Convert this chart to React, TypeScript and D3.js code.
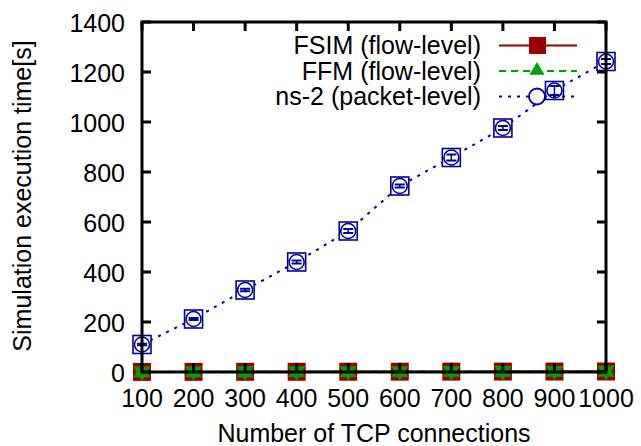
import React from 'react'
import * as d3 from 'd3'

// number of TCP connections
const connections = [100, 200, 300, 400, 500, 600, 700, 800, 900, 1000]
// simulation execution time [s]
const fsimTime = [0.3, 0.5, 0.7, 0.9, 1.1, 1.3, 1.5, 1.7, 1.9, 2.1]
const ffmTime = [0.4, 0.7, 1.0, 1.3, 1.6, 1.9, 2.2, 2.5, 2.8, 3.1]
const ns2Time = [110, 212, 328, 440, 564, 744, 858, 976, 1126, 1242]
const ns2Err = [3, 4, 5, 6, 8, 6, 12, 8, 18, 10]

const xTicks = [100, 200, 300, 400, 500, 600, 700, 800, 900, 1000]
const yTicks = [0, 200, 400, 600, 800, 1000, 1200, 1400]

const RED = '#9b0000'
const GREEN = '#00a000'
const BLUE = '#0000a0'
const FONT = '"Liberation Sans", Arial, sans-serif'

export default function App() {
  const W = 641, H = 446
  const margin = {top: 22, right: 35, bottom: 74, left: 142}
  const x = d3.scaleLinear().domain([100, 1000]).range([margin.left, W - margin.right])
  const y = d3.scaleLinear().domain([0, 1400]).range([H - margin.bottom, margin.top])

  const line = d3.line<number>()
    .x((d, i) => x(connections[i]))
    .y(d => y(d))

  const tri = (cx: number, cy: number, s: number, up = true) => {
    const k = up ? 1 : -1
    return `M${cx},${cy - k * s}L${cx + s * 0.95},${cy + k * s * 0.6}L${cx - s * 0.95},${cy + k * s * 0.6}Z`
  }

  const x0 = x.range()[0], x1 = x.range()[1]
  const y0 = y.range()[0], y1 = y.range()[1]

  const legend = [
    {label: 'FSIM (flow-level)', color: RED, dash: null},
    {label: 'FFM (flow-level)', color: GREEN, dash: '7,5'},
    {label: 'ns-2 (packet-level)', color: BLUE, dash: '3,6'},
  ]

  return (
    <svg width={W} height={H} style={{position: 'absolute', left: 0, top: 0, background: '#fff'}}
      fontFamily={FONT}>
      {/* ns-2 line */}
      <path d={line(ns2Time) || ''} fill="none" stroke={BLUE} strokeWidth={2} strokeDasharray="3,6" />
      {/* FSIM / FFM lines */}
      <path d={line(fsimTime) || ''} fill="none" stroke={RED} strokeWidth={2} />
      <path d={line(ffmTime) || ''} fill="none" stroke={GREEN} strokeWidth={2} strokeDasharray="7,5" />

      {/* ns-2 markers */}
      {ns2Time.map((v, i) => {
        const cx = x(connections[i]), cy = y(v)
        const e0 = y(v - ns2Err[i]), e1 = y(v + ns2Err[i])
        return (
          <g key={'n' + i} stroke={BLUE} fill="none">
            <rect x={cx - 9} y={cy - 9} width={18} height={18} strokeWidth={1.6} fill="#fff" />
            <circle cx={cx} cy={cy} r={7.5} strokeWidth={1.6} />
            <line x1={cx} x2={cx} y1={e0} y2={e1} strokeWidth={1.5} />
            <line x1={cx - 5} x2={cx + 5} y1={e0} y2={e0} strokeWidth={2} />
            <line x1={cx - 5} x2={cx + 5} y1={e1} y2={e1} strokeWidth={2} />
          </g>
        )
      })}

      {/* FSIM markers */}
      {fsimTime.map((v, i) => (
        <rect key={'f' + i} x={x(connections[i]) - 9} y={y(v) - 9} width={18} height={18} fill={RED} />
      ))}
      {/* FFM markers */}
      {ffmTime.map((v, i) => (
        <g key={'g' + i} fill={GREEN}>
          <path d={tri(x(connections[i]), y(v), 9, true)} />
          <path d={tri(x(connections[i]), y(v), 9, false)} />
        </g>
      ))}

      {/* frame + ticks */}
      <g stroke="#000" strokeWidth={3}>
        {xTicks.map(t => (
          <g key={'xt' + t}>
            <line x1={x(t)} x2={x(t)} y1={y0} y2={y0 - 9} />
            <line x1={x(t)} x2={x(t)} y1={y1} y2={y1 + 9} />
          </g>
        ))}
        {yTicks.map(t => (
          <g key={'yt' + t}>
            <line x1={x0} x2={x0 + 9} y1={y(t)} y2={y(t)} />
            <line x1={x1} x2={x1 - 9} y1={y(t)} y2={y(t)} />
          </g>
        ))}
        <rect x={x0} y={y1} width={x1 - x0} height={y0 - y1} fill="none" />
      </g>

      {/* tick labels */}
      <g fontSize={25} fill="#000">
        {xTicks.map(t => (
          <text key={'xl' + t} x={x(t)} y={y0 + 35} textAnchor="middle">{t}</text>
        ))}
        {yTicks.map(t => (
          <text key={'yl' + t} x={125} y={y(t) + 10} textAnchor="end">{t}</text>
        ))}
      </g>

      {/* axis titles */}
      <text x={374} y={442} fontSize={25} textAnchor="middle">Number of TCP connections</text>
      <text transform="translate(31,196) rotate(-90)" fontSize={25} textAnchor="middle">Simulation execution time[s]</text>

      {/* legend */}
      {legend.map((d, i) => {
        const ly = 45.5 + i * 25.5
        return (
          <g key={'lg' + i}>
            <text x={481} y={ly + 8.5} fontSize={25} textAnchor="end">{d.label}</text>
            <line x1={499} x2={577} y1={ly} y2={ly} stroke={d.color} strokeWidth={2}
              strokeDasharray={d.dash || undefined} />
            {i === 0 && <rect x={529} y={ly - 8.5} width={17} height={17} fill={RED} />}
            {i === 1 && <path d={tri(537, ly - 1, 8)} fill={GREEN} />}
            {i === 2 && <circle cx={537} cy={ly} r={8} fill="#fff" stroke={BLUE} strokeWidth={1.8} />}
          </g>
        )
      })}
    </svg>
  )
}
